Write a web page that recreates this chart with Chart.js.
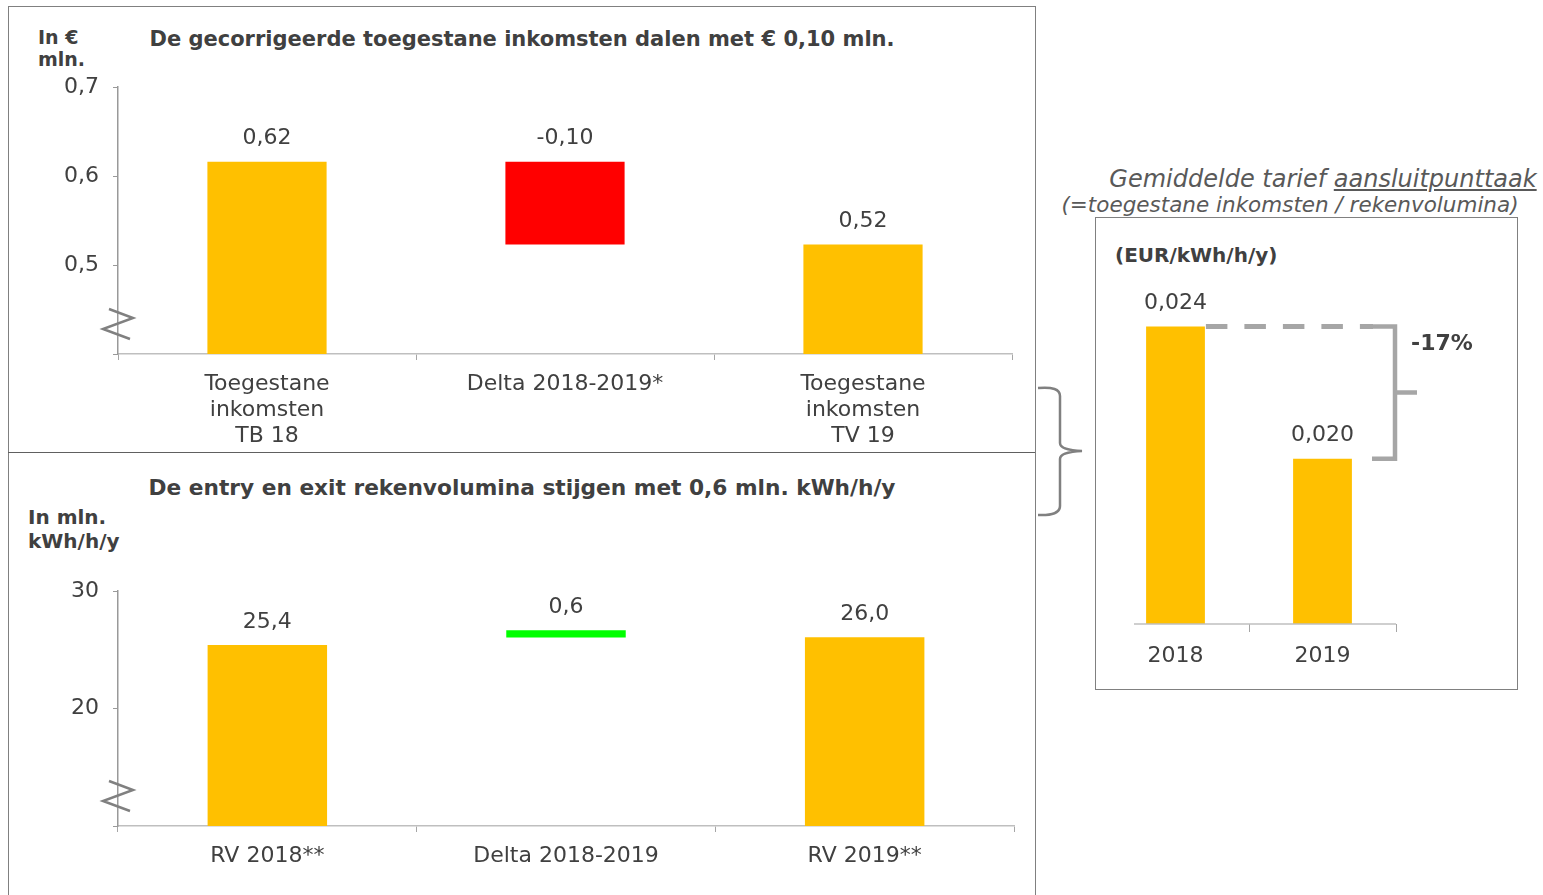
<!DOCTYPE html>
<html>
<head>
<meta charset="utf-8">
<script src="https://cdn.jsdelivr.net/npm/chart.js@4/dist/chart.umd.min.js"></script>
<style>
  body { margin: 0; background: #fff; width: 1543px; height: 895px; overflow: hidden; position: relative;
         font-family: "DejaVu Sans", Verdana, sans-serif; color: #404040; }
  .abs { position: absolute; white-space: nowrap; }
  .panel-title { font-weight: bold; font-size: 21px; text-align: center; width: 1000px; }
  .axis-title { font-weight: bold; font-size: 19px; line-height: 22px; }
  canvas { position: absolute; }
</style>
</head>
<body>

<!-- panel frames -->
<div class="abs" style="left:8px;top:6px;width:1026px;height:900px;border:1.5px solid #808080;border-bottom:none"></div>
<div class="abs" style="left:8px;top:452px;width:1027px;height:0;border-top:1.5px solid #606060"></div>
<div class="abs" style="left:1095px;top:217px;width:421px;height:471px;border:1.5px solid #808080"></div>

<div class="abs panel-title" style="left:22px;top:27px">De gecorrigeerde toegestane inkomsten dalen met € 0,10 mln.</div>
<div class="abs axis-title" style="left:38px;top:26px">In €<br>mln.</div>
<div class="abs panel-title" style="left:22px;top:475px;font-size:21.7px">De entry en exit rekenvolumina stijgen met 0,6 mln. kWh/h/y</div>
<div class="abs axis-title" style="left:28px;top:505px;line-height:24px;font-size:20px">In mln.<br>kWh/h/y</div>

<div class="abs" style="left:923px;top:165px;width:800px;text-align:center;font-style:italic;font-size:24px;color:#595959">Gemiddelde tarief <span style="text-decoration:underline">aansluitpunttaak</span></div>
<div class="abs" style="left:890px;top:192px;width:800px;text-align:center;font-style:italic;font-size:21.5px;color:#595959">(=toegestane inkomsten / rekenvolumina)</div>
<div class="abs axis-title" style="left:1115px;top:244px;font-size:20px">(EUR/kWh/h/y)</div>

<svg class="abs" style="left:0;top:0" width="1543" height="895">
  <path d="M1038,388 Q1060,386 1060,396 L1060,443 Q1060,450 1082,451 Q1060,452 1060,459 L1060,506 Q1060,516 1038,515"
        fill="none" stroke="#808080" stroke-width="2.5"/>
</svg>

<canvas id="incomeChart" width="1027" height="447" style="left:8px;top:6px"></canvas>
<canvas id="volumeChart" width="1027" height="442" style="left:8px;top:453px"></canvas>
<canvas id="tariffChart" width="422" height="472" style="left:1095px;top:217px"></canvas>

<script>
// toegestane inkomsten (mln EUR)
const incomeCategories = [['Toegestane', 'inkomsten', 'TB 18'], 'Delta 2018-2019*', ['Toegestane', 'inkomsten', 'TV 19']];
const incomeValues = [0.616, [0.523, 0.616], 0.523];
const incomeText = ['0,62', '-0,10', '0,52'];
const incomeColors = ['#FFC000', '#FF0000', '#FFC000'];
const incomeTicks = { min: 0.4, max: 0.7, step: 0.1 };

// rekenvolumina (mln kWh/h/y)
const volumeCategories = ['RV 2018**', 'Delta 2018-2019', 'RV 2019**'];
const volumeValues = [25.4, [26.05, 26.65], 26.07];
const volumeText = ['25,4', '0,6', '26,0'];
const volumeColors = ['#FFC000', '#00FF00', '#FFC000'];
const volumeTicks = { min: 10, max: 30, step: 10 };

// gemiddeld tarief (EUR/kWh/h/y)
const tariffCategories = ['2018', '2019'];
const tariffValues = [0.024, 0.020];
const tariffText = ['0,024', '0,020'];
const tariffChange = '-17%';

const textColor = '#404040';
const fontFamily = '"DejaVu Sans", Verdana, sans-serif';

Chart.defaults.font.family = fontFamily;
Chart.defaults.color = textColor;

// waarde boven elke staaf
const valueLabels = {
  id: 'valueLabels',
  afterDatasetsDraw(chart, args, opts) {
    const ctx = chart.ctx;
    const meta = chart.getDatasetMeta(0);
    ctx.save();
    ctx.font = '22px ' + fontFamily;
    ctx.fillStyle = textColor;
    ctx.textAlign = 'center';
    ctx.textBaseline = 'middle';
    meta.data.forEach((bar, i) => {
      const top = Math.min(bar.y, bar.base);
      ctx.fillText(opts.texts[i], bar.x, top - 23);
    });
    ctx.restore();
  }
};

// onderbroken as teken
const axisBreak = {
  id: 'axisBreak',
  afterDraw(chart) {
    const ctx = chart.ctx;
    const x = chart.chartArea.left, b = chart.chartArea.bottom;
    ctx.save();
    ctx.strokeStyle = '#808080';
    ctx.lineWidth = 2.5;
    ctx.beginPath();
    ctx.moveTo(x - 9, b - 45);
    ctx.lineTo(x + 15, b - 36);
    ctx.lineTo(x - 15, b - 25);
    ctx.lineTo(x + 12, b - 15);
    ctx.stroke();
    ctx.restore();
  }
};

function waterfallChart(id, cats, values, colors, texts, ticks, xHeight, pad) {
  return new Chart(document.getElementById(id), {
    type: 'bar',
    data: {
      labels: cats,
      datasets: [{
        data: values,
        backgroundColor: colors,
        barPercentage: 0.4,
        categoryPercentage: 1
      }]
    },
    options: {
      responsive: false,
      animation: false,
      layout: { padding: pad },
      plugins: { legend: { display: false }, tooltip: { enabled: false }, valueLabels: { texts: texts } },
      scales: {
        x: {
          grid: { offset: true, drawOnChartArea: false, tickLength: 6, color: '#a6a6a6' },
          border: { color: '#bfbfbf', width: 1.5 },
          ticks: { font: { size: 22, lineHeight: 26 / 22 }, color: textColor, padding: xHeight.pad, maxRotation: 0 },
          afterFit: s => { s.height = xHeight.h; }
        },
        y: {
          min: ticks.min, max: ticks.max,
          grid: { drawOnChartArea: false, tickLength: 5, color: '#999' },
          border: { color: '#999', width: 1.5 },
          ticks: {
            stepSize: ticks.step, font: { size: 22 }, color: textColor, padding: 14,
            callback: v => v <= ticks.min + 1e-9 ? '' : (Number.isInteger(ticks.step) ? String(v) : v.toFixed(1).replace('.', ','))
          },
          afterFit: s => { s.width = 110; }
        }
      }
    },
    plugins: [valueLabels, axisBreak]
  });
}

waterfallChart('incomeChart', incomeCategories, incomeValues, incomeColors, incomeText, incomeTicks,
  { h: 99, pad: 11 }, { top: 81, right: 23, left: 0, bottom: 0 });
waterfallChart('volumeChart', volumeCategories, volumeValues, volumeColors, volumeText, volumeTicks,
  { h: 69, pad: 11 }, { top: 138, right: 21, left: 0, bottom: 0 });

// gestippelde lijn en accolade voor de daling
const changeBracket = {
  id: 'changeBracket',
  afterDraw(chart) {
    const ctx = chart.ctx;
    const y = chart.scales.y, area = chart.chartArea;
    const bars = chart.getDatasetMeta(0).data;
    const y1 = y.getPixelForValue(tariffValues[0]);
    const y2 = y.getPixelForValue(tariffValues[1]);
    const x0 = bars[0].x + bars[0].width / 2;
    const xr = area.right - 1;
    ctx.save();
    // baseline
    ctx.strokeStyle = '#bfbfbf';
    ctx.lineWidth = 1.5;
    ctx.beginPath();
    ctx.moveTo(area.left + 32, area.bottom);
    ctx.lineTo(area.right, area.bottom);
    ctx.stroke();
    ctx.strokeStyle = '#a6a6a6';
    ctx.lineWidth = 5;
    ctx.setLineDash([21.5, 17]);
    ctx.beginPath();
    ctx.moveTo(x0 + 1, y1);
    ctx.lineTo(xr - 22, y1);
    ctx.stroke();
    ctx.setLineDash([]);
    ctx.lineWidth = 4.5;
    ctx.beginPath();
    ctx.moveTo(xr - 23, y1);
    ctx.lineTo(xr, y1);
    ctx.lineTo(xr, y2);
    ctx.lineTo(xr - 23, y2);
    ctx.moveTo(xr, (y1 + y2) / 2);
    ctx.lineTo(xr + 22, (y1 + y2) / 2);
    ctx.stroke();
    ctx.font = 'bold 22px ' + fontFamily;
    ctx.fillStyle = textColor;
    ctx.textAlign = 'left';
    ctx.textBaseline = 'middle';
    ctx.fillText(tariffChange, xr + 16, y1 + 18);
    ctx.restore();
  }
};

new Chart(document.getElementById('tariffChart'), {
  type: 'bar',
  data: {
    labels: tariffCategories,
    datasets: [{
      data: tariffValues,
      backgroundColor: '#FFC000',
      barPercentage: 0.4,
      categoryPercentage: 1
    }]
  },
  options: {
    responsive: false,
    animation: false,
    layout: { padding: { top: 83, left: 7, right: 121, bottom: 0 } },
    plugins: { legend: { display: false }, tooltip: { enabled: false }, valueLabels: { texts: tariffText } },
    scales: {
      x: {
        grid: { offset: true, drawOnChartArea: false, tickLength: 8, color: c => c.index === 0 ? 'rgba(0,0,0,0)' : '#a6a6a6' },
        border: { display: false },
        ticks: { font: { size: 22 }, color: textColor, padding: 11 },
        afterFit: s => { s.height = 65; }
      },
      y: { display: false, min: 0.015, max: 0.0248 }
    }
  },
  plugins: [valueLabels, changeBracket]
});
</script>
</body>
</html>
